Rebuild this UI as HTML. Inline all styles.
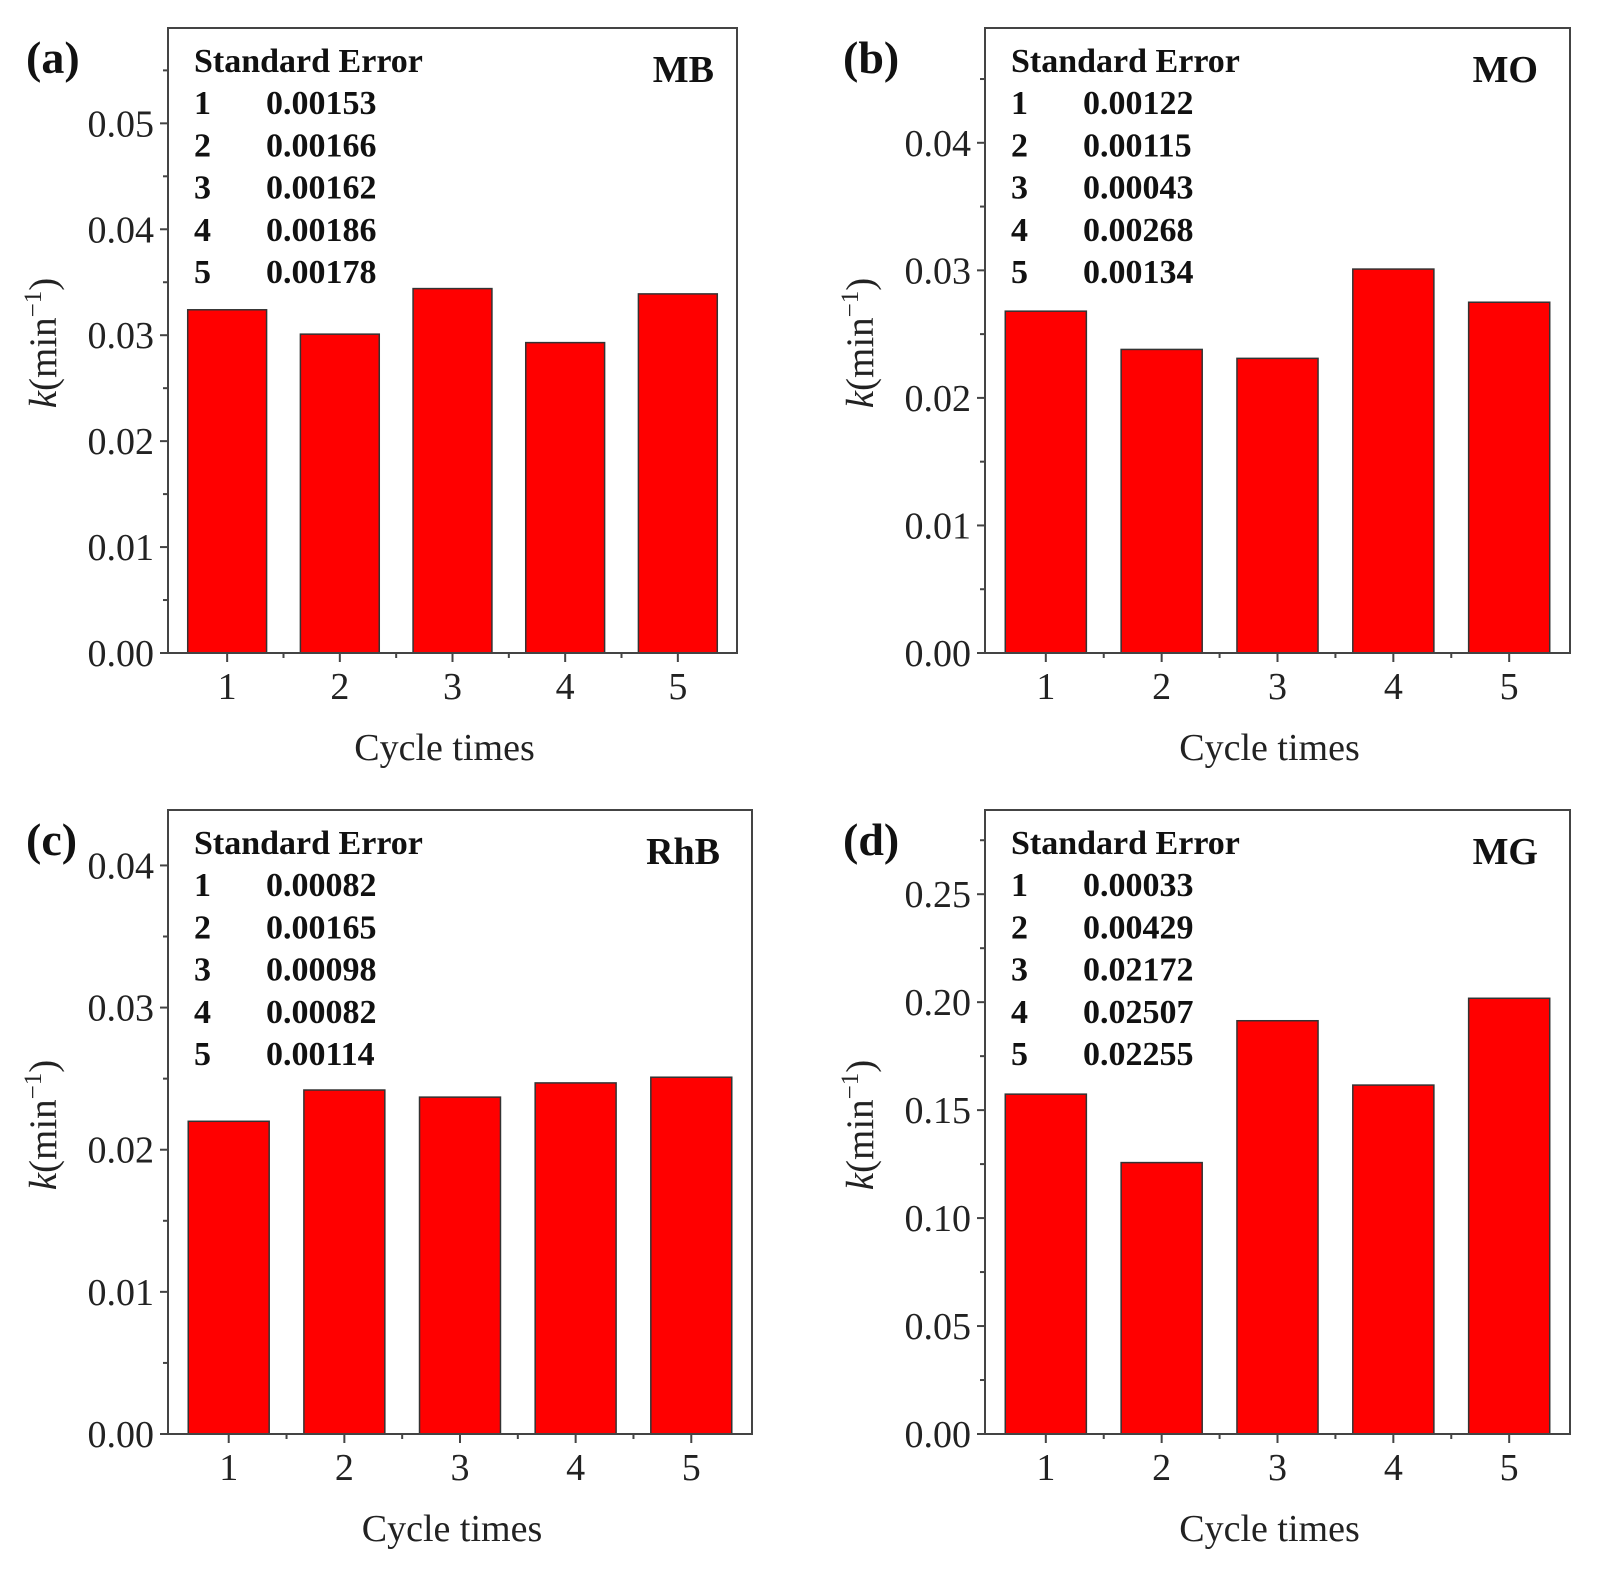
<!DOCTYPE html>
<html><head><meta charset="utf-8"><style>
html,body{margin:0;padding:0;background:#fff;}
svg{display:block;font-family:"Liberation Serif",serif;}
</style></head><body>
<svg id="fig" width="1598" height="1571" viewBox="0 0 1598 1571" xmlns="http://www.w3.org/2000/svg"></svg>
<script>
const categories = [1, 2, 3, 4, 5];
const valuesA = [0.0324, 0.0301, 0.0344, 0.0293, 0.0339];
const valuesB = [0.0268, 0.0238, 0.0231, 0.0301, 0.0275];
const valuesC = [0.0220, 0.0242, 0.0237, 0.0247, 0.0251];
const valuesD = [0.1574, 0.1257, 0.1914, 0.1616, 0.2018];
const ticksA = ["0.00","0.01","0.02","0.03","0.04","0.05"];
const ticksB = ["0.00","0.01","0.02","0.03","0.04"];
const ticksC = ["0.00","0.01","0.02","0.03","0.04"];
const ticksD = ["0.00","0.05","0.10","0.15","0.20","0.25"];
const errA = ["0.00153","0.00166","0.00162","0.00186","0.00178"];
const errB = ["0.00122","0.00115","0.00043","0.00268","0.00134"];
const errC = ["0.00082","0.00165","0.00098","0.00082","0.00114"];
const errD = ["0.00033","0.00429","0.02172","0.02507","0.02255"];

const NS = "http://www.w3.org/2000/svg";
const svg = document.getElementById('fig');
function mk(tag, attrs, parent, text){
  const e = document.createElementNS(NS, tag);
  for (const k in attrs) e.setAttribute(k, attrs[k]);
  if (text !== undefined) e.textContent = text;
  (parent || svg).appendChild(e);
  return e;
}

const panels = [
  {id:'a', L:168, R:737, T:28, B:653, ymax:0.059, step:0.01, vals:valuesA, ticks:ticksA, err:errA, dye:'MB'},
  {id:'b', L:985, R:1570, T:28, B:653, ymax:0.049, step:0.01, vals:valuesB, ticks:ticksB, err:errB, dye:'MO'},
  {id:'c', L:168, R:752, T:810, B:1434, ymax:0.0439, step:0.01, vals:valuesC, ticks:ticksC, err:errC, dye:'RhB'},
  {id:'d', L:985, R:1570, T:810, B:1434, ymax:0.289, step:0.05, vals:valuesD, ticks:ticksD, err:errD, dye:'MG'}
];

panels.forEach(p => {
  const g = mk('g', {});
  
  
  const W = p.R - p.L;
  const n = categories.length;
  const slot = W / (n + 0.05);
  const first = p.L + W/2 - slot*(n-1)/2;
  const xS = i => first + i*slot;
  const yS = v => p.B - v/p.ymax*(p.B - p.T);
  const bw = slot*0.7;

  p.vals.forEach((v,i) => {
    const r = mk('rect', {x:xS(i)-bw/2, y:yS(v), width:bw, height:p.B-yS(v), fill:'#ff0000', stroke:'#333', 'stroke-width':1.5}, g);
    
    
  });
  const fr = mk('rect', {x:p.L, y:p.T, width:W, height:p.B-p.T, fill:'none', stroke:'#444', 'stroke-width':2}, g);
  
  

  p.ticks.forEach((t,i) => {
    const v = i*p.step;
    const y = yS(v);
    mk('line', {x1:p.L-8, x2:p.L, y1:y, y2:y, stroke:'#444', 'stroke-width':2}, g);
    const ym = yS(v + p.step/2);
    if (ym > p.T) mk('line', {x1:p.L-5, x2:p.L, y1:ym, y2:ym, stroke:'#444', 'stroke-width':2}, g);
    const tl = mk('text', {x:p.L-14, y:y+13, 'text-anchor':'end', 'font-size':38, fill:'#222'}, g, t);
    
    
  });
  categories.forEach((c,i) => {
    const x = xS(i);
    mk('line', {x1:x, x2:x, y1:p.B, y2:p.B+9, stroke:'#444', 'stroke-width':2}, g);
    if (i < n-1) { const xm = x + slot/2; mk('line', {x1:xm, x2:xm, y1:p.B, y2:p.B+5, stroke:'#444', 'stroke-width':2}, g); }
    const xl = mk('text', {x:x, y:p.B+46, 'text-anchor':'middle', 'font-size':38, fill:'#222'}, g, String(c));
    
    
  });
  const xt = mk('text', {x:p.L + W/2 - 8, y:p.B+107, 'text-anchor':'middle', 'font-size':38, fill:'#222'}, g, 'Cycle times');
  
  
  const cy = p.T + 315;
  const yt = mk('text', {x:0, y:0, 'text-anchor':'middle', 'font-size':39, fill:'#222', transform:`translate(${p.L-112},${cy}) rotate(-90)`}, g);
  
  
  mk('tspan', {'font-style':'italic'}, yt, 'k');
  mk('tspan', {}, yt, '(min');
  mk('tspan', {dy:-15, 'font-size':25}, yt, '\u2212' + '1');
  mk('tspan', {dy:15}, yt, ')');
  const pl = mk('text', {x:p.L-142, y:p.T+45, 'font-size':46, 'font-weight':'bold', fill:'#111'}, g, '(' + p.id + ')');
  
  
  const dl = mk('text', {x:p.L + (p.id==='a'?546:p.id==='c'?552:553), y:p.T+54, 'text-anchor':'end', 'font-size':38, 'font-weight':'bold', fill:'#111'}, g, p.dye);
  
  
  const tx = p.L + 26;
  const th = mk('text', {x:tx, y:p.T+44, 'font-size':34, 'font-weight':'bold', fill:'#111'}, g, 'Standard Error');
  
  
  p.err.forEach((e,i) => {
    const yy = p.T + 86 + i*42.3;
    const a = mk('text', {x:tx, y:yy, 'font-size':34, 'font-weight':'bold', fill:'#111'}, g, String(categories[i]));
    
    
    const b = mk('text', {x:tx+72, y:yy, 'font-size':34, 'font-weight':'bold', fill:'#111'}, g, e);
    
    
  });
});
</script>
</body></html>
